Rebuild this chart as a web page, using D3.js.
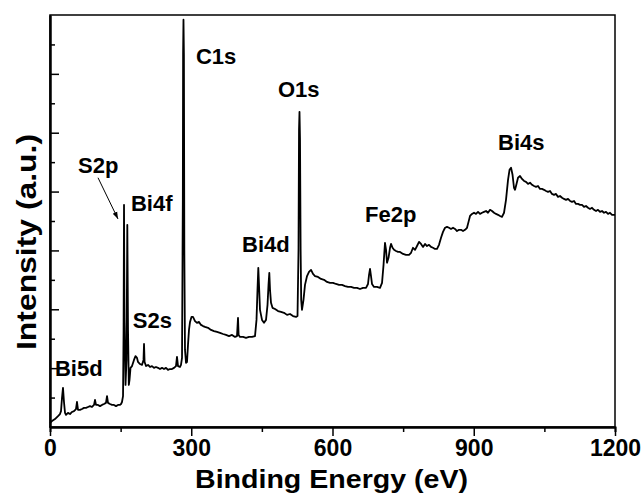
<!DOCTYPE html>
<meta charset="utf-8">
<head>
  <title>XPS survey</title>
  <script src="https://cdn.jsdelivr.net/npm/d3@7"></script>
  <style>
    body { margin: 0; background: #fff; }
    text { font-family: "Liberation Sans", Arial, sans-serif; font-weight: bold; fill: #000; }
    .spectrum { fill: none; stroke: #000; stroke-width: 1.8px; stroke-linejoin: round; }
    .axis path, .axis line { stroke: #000; }
  </style>
</head>
<body>
<svg width="643" height="496"></svg>
<script>
// binding energy (eV) and intensity (a.u.)
const energy = [0,4.2,10.6,17,21.2,23.4,25.5,27.6,29.7,31.9,34,38.2,42.5,46.7,51,55.2,57.3,59.5,63.7,68,72.2,76.5,80.7,85,89.2,93.5,95.6,97.7,102,106.2,110.4,114.7,118.9,121.1,123.2,127.4,131.7,135.9,140.2,144.4,148.7,150.8,152.9,155.1,156.3,157.2,158.2,160.4,162.5,164.2,165.7,167.4,168.9,171,174.2,178.4,181.6,184.8,186.9,191.2,195.4,198.6,199.7,200.9,203.9,208.2,212.4,216.6,220.9,225.1,229.4,233.6,237.9,242.1,246.4,250.6,254.9,259.1,263.4,267.6,269.7,271.9,276.1,278.2,280.4,282.1,282.7,283.5,284.4,285.3,286.7,288.9,291,293.1,295.2,297.4,300.5,303.7,308,312.2,316.5,320.7,325,329.2,335.6,342,348.3,354.7,361.1,367.5,373.8,380.2,386.6,392.9,397.2,399.3,400.6,403.6,410,416.3,422.7,429,435.4,438.6,440.7,442.4,443.9,446,450.3,454.5,458.8,462,464.1,465.8,467.3,469.4,472.6,477.9,484.3,490.6,497,503.4,509.8,516.1,522.5,525.7,527.8,528.9,529.9,531,532.3,533.5,535.2,538.4,541.6,545.9,550.1,554.4,558.6,562.9,569.2,575.6,582,588.3,594.7,601.1,607.5,613.8,620.2,626.6,632.9,639.3,645.7,652.1,658.4,664.8,671.2,675.4,677.6,679.7,681.8,683.9,688.2,694.5,700.9,705.2,708.4,711.5,713.7,715.8,719,722.2,724.3,727.5,730.7,734.9,739.2,743.4,749.8,756.1,762.5,766.8,771,775.3,779.5,783.8,788,792.3,796.5,800.7,805,809.2,813.5,817.7,822,826.2,830.5,834.7,839,843.2,847.5,851.7,856,860.2,864.5,868.7,873,877.2,881.5,885.7,888.9,892.1,896.3,900.6,904.8,909.1,913.3,917.6,921.8,926.1,930.3,934.6,938.8,943.1,947.3,951.6,955.8,960,964.3,968.5,972.8,976,979.2,982.4,985.5,987.7,990.8,994,998.3,1002.5,1006.8,1011,1015.3,1019.5,1023.8,1028,1032.3,1036.5,1040.8,1045,1049.3,1053.5,1057.8,1062,1066.2,1070.5,1074.7,1079,1083.2,1087.5,1091.7,1096,1100.2,1104.5,1108.7,1113,1117.2,1121.5,1125.7,1130,1134.2,1138.4,1142.7,1146.9,1151.2,1155.4,1159.7,1163.9,1168.2,1172.4,1176.7,1180.9,1185.2,1189.4,1193.7,1200];
const intensity = [1.4,2,2.7,3.7,4.4,5.4,9.9,13.3,8.5,4.8,4.1,4.8,4.4,5.1,5.4,6.1,8.5,5.8,5.8,6.1,6.5,6.5,6.8,7.1,6.8,7.5,9.2,7.5,7.5,7.1,7.5,7.8,8.2,10.5,8.2,7.8,7.5,7.5,7.1,7.5,7.5,7.8,8.5,10.5,33,75.5,36.4,14.3,22.8,68.7,33,14.3,16,20.1,20.7,22.8,24.1,23.5,22.1,21.4,21.1,22.8,28.2,22.1,20.7,21.1,20.4,20.7,20.1,20.4,20.1,19.7,20.1,19.7,20.1,19.4,19.7,19.7,20.1,20.7,23.8,20.7,20.4,21.1,23.5,77.2,127.2,138.4,126.5,60.2,26.2,21.8,22.1,27.9,33,35.7,37.4,37.4,36,35.4,35.7,34.7,34.3,34,33.7,33,32.6,32.3,32,31.6,31.3,30.9,31.3,30.6,30.9,37.1,31.3,30.6,30.6,30.3,30.6,30.6,30.9,36.4,46.6,54.1,48.3,39.8,36.4,35.4,36.4,41.5,48.3,52.4,46.6,42.2,40.5,40.1,39.4,39.1,38.8,38.1,38.4,37.7,37.4,37.7,60.2,101,107.1,97.6,60.2,43.2,39.8,43.2,48.3,51.3,52.7,53.4,52,51.3,51,50.3,50,49.3,49,49,48.6,48.3,48.3,47.9,47.6,47.6,47.3,47.3,46.9,47.3,47.3,48.6,51.7,53.7,51.3,48.6,47.6,47.6,47.3,49,55.1,62.6,60.2,55.8,57.5,60.9,62.2,60.9,60.2,59.8,59.5,59.5,58.8,58.5,58.5,59.2,60.9,60.2,61.5,62.9,62.2,61.2,62.2,61.5,61.9,61.2,60.9,60.5,60.5,61.9,64.3,66.3,67.7,68,67.7,67.3,67.7,67.3,66.6,67,67,66.6,67,67.7,69.7,71.7,72.4,72.8,72.4,73.1,72.4,72.8,73.1,73.4,72.8,73.8,73.4,72.8,72.4,72.1,71.7,71.4,72.8,77.2,84,87.4,88.1,85.7,81.3,80.6,82.6,84.7,85.3,84.3,83.6,83.3,82.6,83,82.3,81.9,81.6,81.9,80.9,80.9,80.6,80.2,79.9,80.2,79.2,78.9,79.2,78.2,78.5,77.9,77.5,77.2,77.5,76.8,76.5,76.8,75.8,75.8,75.5,75.5,74.8,75.1,74.5,74.1,74.5,73.8,73.4,73.8,73.1,73.4,72.8,73.1,72.4,72.8,72.1,72.1];

// peak labels: text, energy and intensity of the label's left baseline
const peakNames = ["S2p", "Bi4f", "C1s", "O1s", "Bi4d", "Fe2p", "Bi4s", "S2s", "Bi5d"];
const peakLabelE = [59.5, 172, 310, 484, 408, 669, 951.6, 176, 10.6];
const peakLabelI = [86.4, 73.4, 123.4, 112.2, 59.5, 69.7, 94.2, 33.7, 17.3];

const xMajor = [0, 300, 600, 900, 1200];
const xMinor = [150, 450, 750, 1050];
const yMajor = [20, 40, 60, 80, 100, 120];
const yMinor = [10, 30, 50, 70, 90, 110, 130];

const svg = d3.select("svg");
const plotLeft = 50, plotRight = 615, plotTop = 15, plotBottom = 427;

const x = d3.scaleLinear().domain([0, 1200]).range([plotLeft, plotRight]);
const y = d3.scaleLinear().domain([0, 140]).range([plotBottom, plotTop]);

// spectrum
const pts = energy.map(function(e, i) { return [e, intensity[i]]; });
svg.append("path")
  .attr("class", "spectrum")
  .attr("d", d3.line().x(function(d) { return x(d[0]); }).y(function(d) { return y(d[1]); })(pts));

// frame
svg.append("rect")
  .attr("x", plotLeft).attr("y", plotTop)
  .attr("width", plotRight - plotLeft).attr("height", plotBottom - plotTop)
  .attr("fill", "none").attr("stroke", "#000").attr("stroke-width", 1.5);

// x axis
const gx = svg.append("g").attr("class", "axis").attr("transform", "translate(0," + plotBottom + ")");
gx.call(d3.axisBottom(x).tickValues(xMajor).tickSize(9).tickSizeOuter(0).tickFormat(d3.format("d")));
gx.append("g").call(d3.axisBottom(x).tickValues(xMinor).tickSize(5).tickFormat(""));
gx.selectAll("path").attr("stroke-width", 2);
gx.selectAll("line").attr("stroke-width", 1.5);
gx.selectAll("text")
  .attr("fill", "#000")
  .style("font-size", "23px")
  .style("font-family", "'Liberation Sans', Arial, sans-serif")
  .style("font-weight", "bold")
  .attr("y", 13)
  .attr("dy", "0.71em");

// y axis, ticks pointing inward, no labels
const gy = svg.append("g").attr("class", "axis").attr("transform", "translate(" + plotLeft + ",0)");
gy.call(d3.axisRight(y).tickValues(yMajor).tickSize(9).tickSizeOuter(0).tickFormat(""));
gy.append("g").call(d3.axisRight(y).tickValues(yMinor).tickSize(5).tickSizeOuter(0).tickFormat(""));
gy.selectAll("path").attr("stroke-width", 2);
gy.selectAll("line").attr("stroke-width", 1.5);

// axis titles
svg.append("text")
  .attr("x", 195).attr("y", 488)
  .attr("textLength", 273).attr("lengthAdjust", "spacingAndGlyphs")
  .style("font-size", "25.5px")
  .text("Binding Energy (eV)");

svg.append("text")
  .attr("transform", "translate(36,350) rotate(-90)")
  .attr("textLength", 216).attr("lengthAdjust", "spacingAndGlyphs")
  .style("font-size", "28px")
  .text("Intensity (a.u.)");

// peak labels
svg.append("g").selectAll("text")
  .data(peakNames)
  .join("text")
  .attr("x", function(d, i) { return x(peakLabelE[i]); })
  .attr("y", function(d, i) { return y(peakLabelI[i]); })
  .style("font-size", "22px")
  .text(function(d) { return d; });

// S2p arrow
svg.append("defs").append("marker")
  .attr("id", "head")
  .attr("viewBox", "0 0 10 10")
  .attr("refX", 10).attr("refY", 5)
  .attr("markerWidth", 7).attr("markerHeight", 7)
  .attr("orient", "auto")
  .append("path").attr("d", "M0,1.5 L10,5 L0,8.5 Z").attr("fill", "#000");

svg.append("line")
  .attr("x1", x(102)).attr("y1", y(84.7))
  .attr("x2", x(144.4)).attr("y2", y(70.7))
  .attr("stroke", "#000").attr("stroke-width", 1)
  .attr("marker-end", "url(#head)");
</script>
</body>
